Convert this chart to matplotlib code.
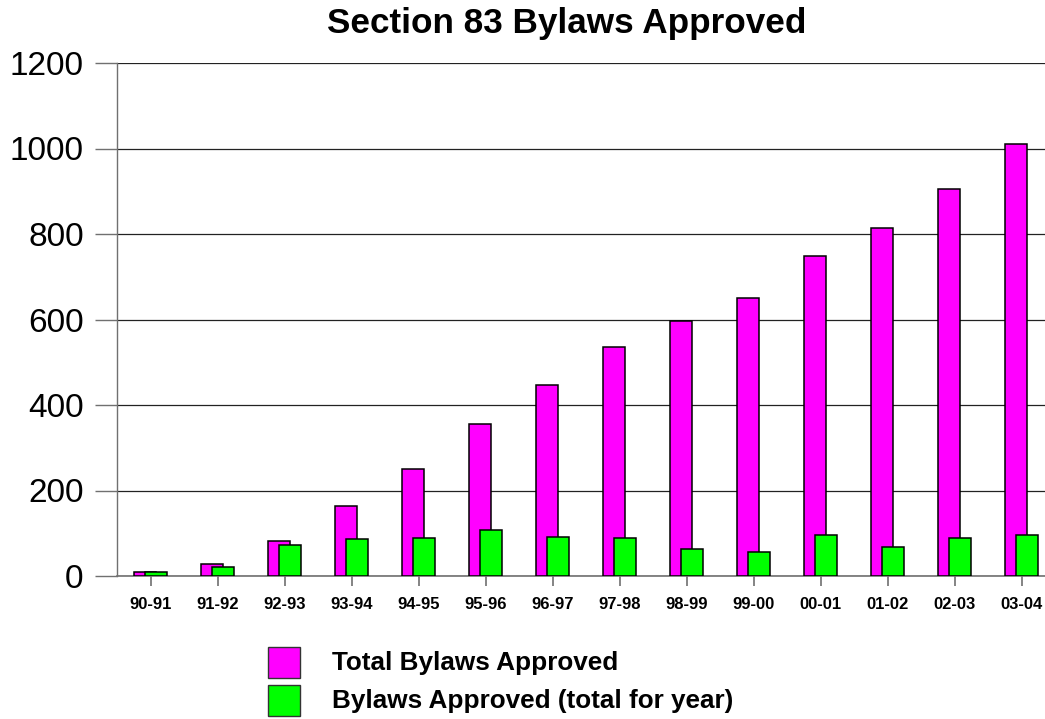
import matplotlib
matplotlib.use("Agg")
import matplotlib.pyplot as plt
from matplotlib.patches import Rectangle
import numpy as np

years = ["90-91", "91-92", "92-93", "93-94", "94-95", "95-96", "96-97",
         "97-98", "98-99", "99-00", "00-01", "01-02", "02-03", "03-04"]
total_bylaws = [10, 28, 82, 164, 250, 356, 446, 536, 596, 651, 748, 814, 905, 1010]
year_bylaws = [9, 20, 73, 86, 88, 107, 91, 88, 62, 55, 97, 67, 90, 97]
y_ticks = [0, 200, 400, 600, 800, 1000, 1200]

series_names = ["Total Bylaws Approved", "Bylaws Approved (total for year)"]
series_colors = ["#ff00ff", "#00ff00"]

plt.rcParams["font.family"] = ["Liberation Sans", "DejaVu Sans"]

W, H = 1045, 719
fig = plt.figure(figsize=(W / 100, H / 100), dpi=100)
ax = fig.add_axes([117 / W, (H - 576) / H, 938 / W, 513 / H])

x = np.arange(len(years))
bw = 22.4 / 67
off = 5.5 / 67
ax.bar(x - off, total_bylaws, width=bw, color=series_colors[0], edgecolor="black",
       linewidth=1.1, zorder=3)
ax.bar(x + off, year_bylaws, width=bw, color=series_colors[1], edgecolor="black",
       linewidth=1.1, zorder=4)

ax.set_xlim(-0.5, len(years) - 0.5)
ax.set_ylim(0, 1200)
ax.set_yticks(y_ticks)
ax.set_yticklabels([str(v) for v in y_ticks], fontsize=24)
ax.set_xticks(x)
ax.set_xticklabels(years, fontsize=12, fontweight="bold")

ax.yaxis.grid(True, color="#222222", linewidth=0.9, zorder=0)
ax.set_axisbelow(True)
for s in ["top", "right"]:
    ax.spines[s].set_visible(False)
ax.spines["left"].set_color("#707070")
ax.spines["bottom"].set_color("#707070")
ax.spines["left"].set_linewidth(1.0)
ax.spines["bottom"].set_linewidth(1.2)
ax.tick_params(axis="y", length=16, width=1.0, color="#707070", pad=8)
ax.tick_params(axis="x", length=7, width=1.2, color="#707070", pad=8)

fig.text(567 / W, 1 - 23 / H, "Section 83 Bylaws Approved", ha="center",
         va="center", fontsize=25.3, fontweight="bold")

# Legend: colour swatches with bold labels, laid out in figure pixels
swatch_tops = [647, 685]
for top, color, name in zip(swatch_tops, series_colors, series_names):
    fig.add_artist(Rectangle((268 / W, 1 - (top + 31) / H), 32 / W, 31 / H,
                             transform=fig.transFigure, facecolor=color,
                             edgecolor="#333333", linewidth=1.0))
    fig.text(332 / W, 1 - (top + 16) / H, name, ha="left", va="center",
             fontsize=18.8, fontweight="bold")

fig.savefig("out.png", dpi=100)
